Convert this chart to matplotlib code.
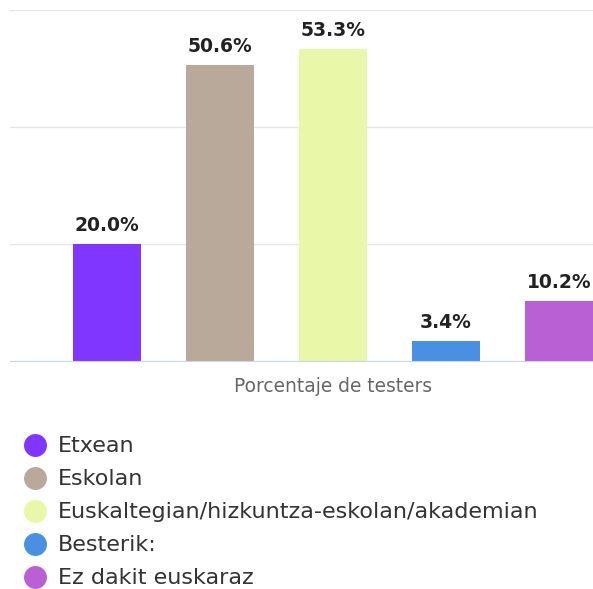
import matplotlib.pyplot as plt
from matplotlib.lines import Line2D

# data
categories = ['Etxean', 'Eskolan', 'Euskaltegian/hizkuntza-eskolan/akademian',
              'Besterik:', 'Ez dakit euskaraz']
values = [20.0, 50.6, 53.3, 3.4, 10.2]
colors = ['#8036ff', '#b9a99a', '#e9f7a9', '#4a90e2', '#b961d4']
yticks = [0, 20, 40, 60]

fig = plt.figure(figsize=(5.93, 5.89), dpi=100)
ax = fig.add_axes([10 / 593, (589 - 361) / 589, 1 - 10 / 593, 351 / 589])

x = list(range(len(values)))
ax.bar(x, values, width=0.6, color=colors, zorder=2)
for xi, v in zip(x, values):
    ax.text(xi, v + 1.6, f'{v:.1f}%', ha='center', va='bottom',
            fontsize=13.5, fontweight='bold', color='#222222')

ax.set_xlim(-0.86, 4.30)
ax.set_ylim(0, 60)
ax.set_yticks(yticks)
ax.set_yticklabels([])
ax.set_xticks([])
ax.tick_params(length=0)
ax.grid(axis='y', color='#e6e6e6', linewidth=1, zorder=0)
for s in ['top', 'right', 'left']:
    ax.spines[s].set_visible(False)
ax.spines['bottom'].set_color('#ccd6eb')
ax.spines['bottom'].set_zorder(3)

fig.text(333 / 593, 1 - 387 / 589, 'Porcentaje de testers', ha='center', va='center',
         fontsize=13.4, color='#666666')

handles = [Line2D([0], [0], marker='o', linestyle='', markersize=15.5,
                  markerfacecolor=c, markeredgecolor=c) for c in colors]
fig.legend(handles, categories, loc='upper left',
           bbox_to_anchor=(12.8 / 593, 1 - 427.6 / 589),
           frameon=False, fontsize=16, labelspacing=0.585, handletextpad=0.44,
           handlelength=1.2, borderaxespad=0, borderpad=0.4, labelcolor='#333333')

plt.savefig('out.png', dpi=100)
